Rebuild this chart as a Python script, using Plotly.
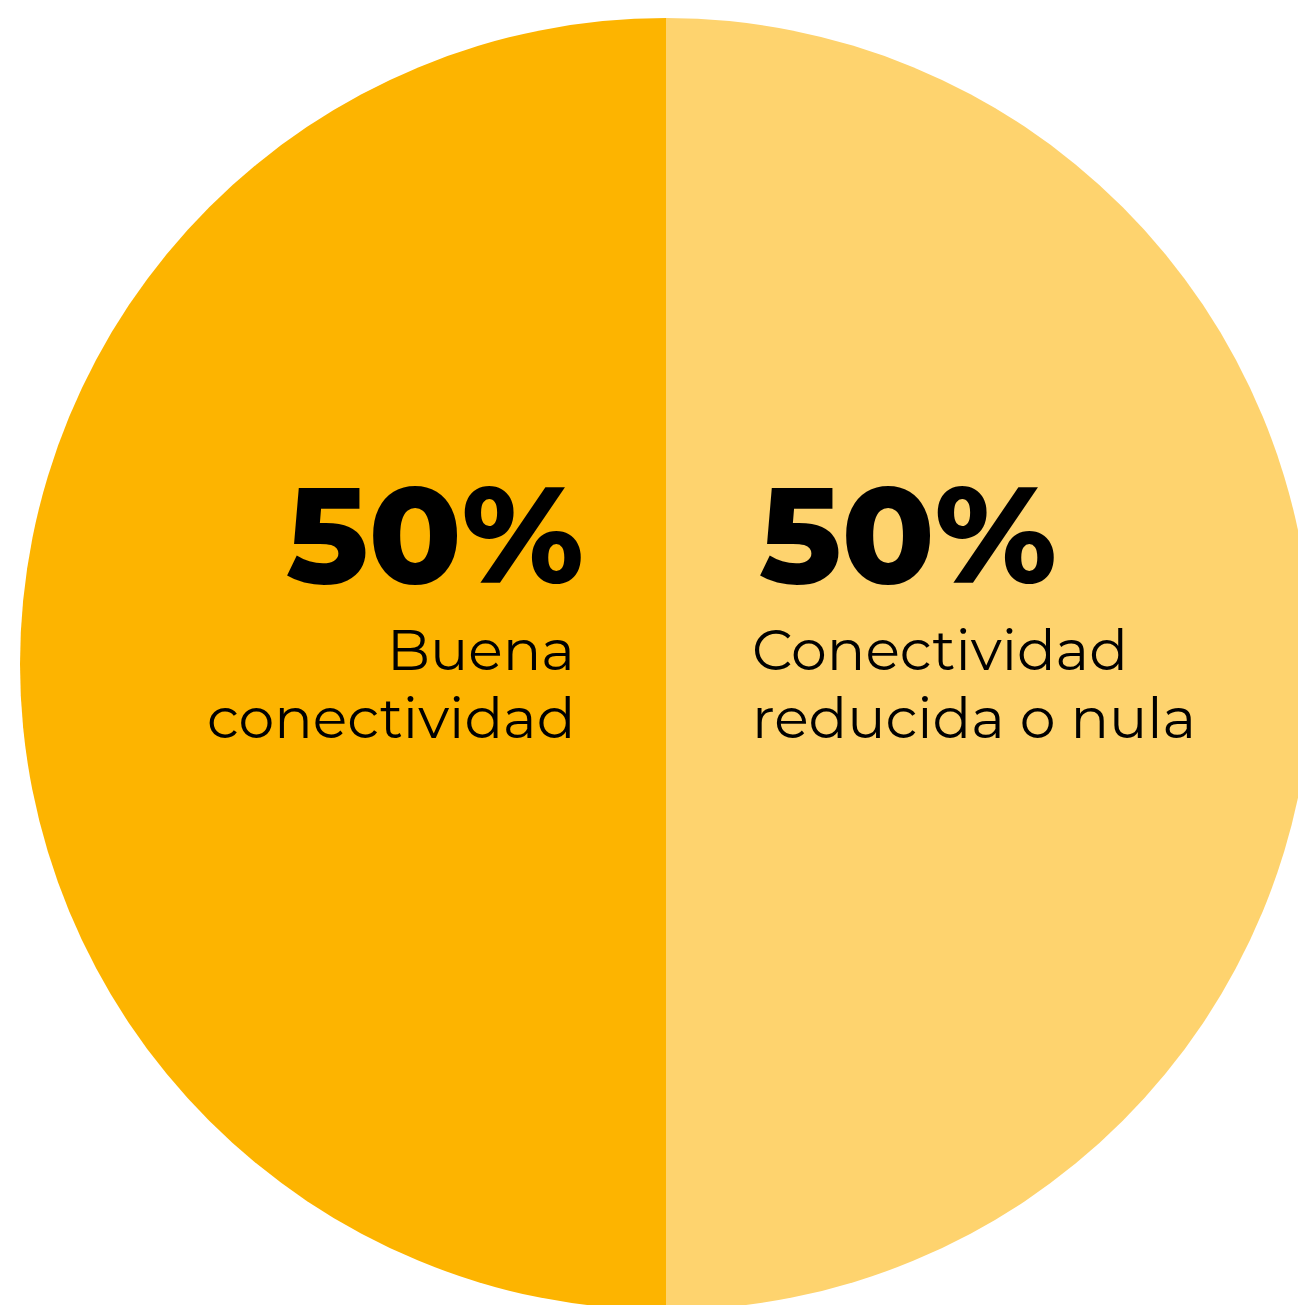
import plotly.graph_objects as go

labels = ["Conectividad reducida o nula", "Buena conectividad"]
values = [50, 50]
colors = ["#FED36E", "#FDB400"]
pct_text = ["50%", "50%"]
desc_lines = [["Conectividad", "reducida o nula"], ["Buena", "conectividad"]]

W, H = 1320, 1315
cx, cy, r = 666, 664, 646

fig = go.Figure(go.Pie(
    labels=labels, values=values, sort=False, direction="clockwise", rotation=0,
    marker=dict(colors=colors, line=dict(width=0)),
    textinfo="none", hoverinfo="label+percent", showlegend=False,
    domain=dict(x=[(cx - r) / W, (cx + r) / W], y=[(H - cy - r) / H, (H - cy + r) / H]),
))

def px(x):
    return x / W

def py(y):
    return 1 - y / H

FONT = "Montserrat, Inter, sans-serif"
BIG = 136
SMALL = 57
ann = []
# right slice (index 0), left slice (index 1)
ann.append(dict(x=px(757), y=py(534), text=pct_text[0], xanchor="left", yanchor="middle",
                font=dict(family=FONT, size=BIG, color="#000", weight=800)))
ann.append(dict(x=px(586), y=py(534), text=pct_text[1], xanchor="right", yanchor="middle",
                font=dict(family=FONT, size=BIG, color="#000", weight=800)))
line_y = [649, 717]
for i, t in enumerate(desc_lines[0]):
    ann.append(dict(x=px(750), y=py(line_y[i]), text=t, xanchor="left", yanchor="middle",
                    font=dict(family=FONT, size=SMALL, color="#000")))
for i, t in enumerate(desc_lines[1]):
    ann.append(dict(x=px(577), y=py(line_y[i]), text=t, xanchor="right", yanchor="middle",
                    font=dict(family=FONT, size=SMALL, color="#000")))
for a in ann:
    a.update(xref="paper", yref="paper", showarrow=False)

fig.update_layout(width=W, height=H, margin=dict(l=0, r=0, t=0, b=0),
                  paper_bgcolor="white", plot_bgcolor="white", annotations=ann)

fig.write_html("out.html", post_script="document.documentElement.style.overflow='hidden';document.body.style.overflow='hidden';document.body.style.margin='0';")
